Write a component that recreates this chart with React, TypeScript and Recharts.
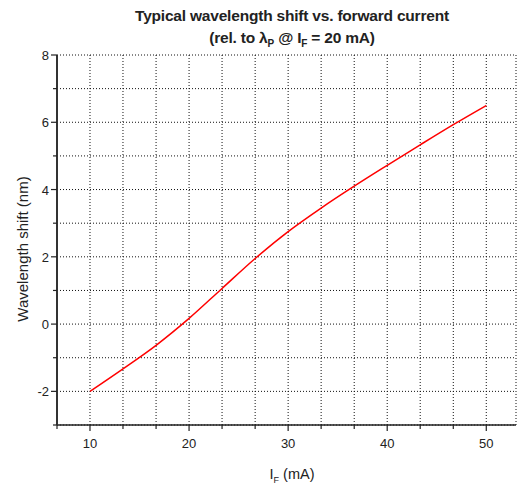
import { LineChart, Line, XAxis, YAxis, CartesianGrid } from 'recharts';

// forward current (mA) and wavelength shift (nm)
const currentMA = [10, 13.33, 16.67, 20, 23.33, 26.67, 30, 33.33, 36.67, 40, 43.33, 46.67, 50];
const shiftNm = [-2, -1.33, -0.63, 0.17, 1.06, 1.95, 2.75, 3.45, 4.1, 4.72, 5.33, 5.93, 6.5];

const xTicks = [6.67, 10, 13.33, 16.67, 20, 23.33, 26.67, 30, 33.33, 36.67, 40, 43.33, 46.67, 50];
const xLabels = [10, 20, 30, 40, 50];
const yTicks = [-3, -2, -1, 0, 1, 2, 3, 4, 5, 6, 7, 8];
const yLabels = [-2, 0, 2, 4, 6, 8];

const data = currentMA.map((c, i) => ({ current: c, shift: shiftNm[i] }));

const FONT = '"Liberation Sans", Arial, sans-serif';
const INK = '#222';

function BottomTick({ x, y, payload }: any) {
  const major = xLabels.includes(payload.value);
  return (
    <g>
      <line x1={x} y1={y} x2={x} y2={y + (major ? 6 : 4)} stroke={INK} strokeWidth={1.2} />
      {major && (
        <text x={x} y={y + 23} textAnchor="middle" fontSize={13} fontFamily={FONT} fill={INK}>
          {payload.value}
        </text>
      )}
    </g>
  );
}

function LeftTick({ x, y, payload }: any) {
  const major = yLabels.includes(payload.value);
  return (
    <g>
      <line x1={x} y1={y} x2={x - (major ? 6 : 4)} y2={y} stroke={INK} strokeWidth={1.2} />
      {major && (
        <text x={x - 8} y={y + 5} textAnchor="end" fontSize={13} fontFamily={FONT} fill={INK}>
          {payload.value}
        </text>
      )}
    </g>
  );
}

function TopTick({ x, y, payload }: any) {
  const major = xLabels.includes(payload.value);
  return <line x1={x} y1={y} x2={x} y2={y + (major ? 5 : 4)} stroke={INK} strokeWidth={1.2} />;
}

function RightTick({ x, y, payload }: any) {
  const major = yLabels.includes(payload.value);
  return <line x1={x} y1={y} x2={x + (major ? 6 : 4)} y2={y} stroke={INK} strokeWidth={1.2} />;
}

const titleStyle: any = {
  position: 'absolute',
  left: 0,
  width: 584,
  textAlign: 'center',
  fontSize: 15.5,
  lineHeight: '15px',
  fontWeight: 'bold',
  letterSpacing: -0.2,
};

export default function App() {
  return (
    <div style={{ position: 'absolute', left: 0, top: 0, width: 518, height: 486, background: '#fff', fontFamily: FONT, color: INK }}>
      <div style={{ ...titleStyle, top: 8 }}>Typical wavelength shift vs. forward current</div>
      <div style={{ ...titleStyle, top: 30 }}>
        (rel. to λ<sub style={{ fontSize: 10 }}>P</sub> @ I<sub style={{ fontSize: 10 }}>F</sub> = 20 mA)
      </div>
      <div
        style={{
          position: 'absolute',
          left: 22,
          top: 249,
          transform: 'translate(-50%, -50%) rotate(-90deg)',
          whiteSpace: 'nowrap',
          fontSize: 15,
        }}
      >
        Wavelength shift (nm)
      </div>
      <div style={{ position: 'absolute', top: 467, left: 0, width: 584, textAlign: 'center', fontSize: 14.5, lineHeight: '14px' }}>
        I<sub style={{ fontSize: 9 }}>F</sub> (mA)
      </div>
      <LineChart width={518} height={486} data={data} margin={{ top: 55, right: 2, bottom: 0, left: 0 }}>
        <CartesianGrid stroke="#111" strokeDasharray="1 2" strokeWidth={1} />
        <XAxis
          dataKey="current"
          type="number"
          domain={[6.67, 53]}
          ticks={xTicks}
          interval={0}
          allowDataOverflow
          height={61}
          tickSize={0}
          tickMargin={0}
          tickLine={false}
          tick={BottomTick}
          axisLine={{ stroke: INK, strokeWidth: 1.5 }}
        />
        <XAxis
          xAxisId="top"
          orientation="top"
          dataKey="current"
          type="number"
          domain={[6.67, 53]}
          ticks={xTicks}
          interval={0}
          allowDataOverflow
          height={0}
          tickSize={0}
          tickMargin={0}
          tickLine={false}
          tick={TopTick}
          axisLine={{ stroke: INK, strokeWidth: 1.5 }}
        />
        <YAxis
          type="number"
          domain={[-3, 8]}
          ticks={yTicks}
          interval={0}
          allowDataOverflow
          width={57}
          tickSize={0}
          tickMargin={0}
          tickLine={false}
          tick={LeftTick}
          axisLine={{ stroke: '#333', strokeWidth: 2 }}
        />
        <YAxis
          yAxisId="right"
          orientation="right"
          type="number"
          domain={[-3, 8]}
          ticks={yTicks}
          interval={0}
          allowDataOverflow
          width={0}
          tickSize={0}
          tickMargin={0}
          tickLine={false}
          tick={RightTick}
          axisLine={{ stroke: INK, strokeWidth: 1.5 }}
        />
        <Line
          type="monotone"
          dataKey="shift"
          stroke="#ff0000"
          strokeWidth={1.5}
          dot={false}
          isAnimationActive={false}
        />
      </LineChart>
    </div>
  );
}
